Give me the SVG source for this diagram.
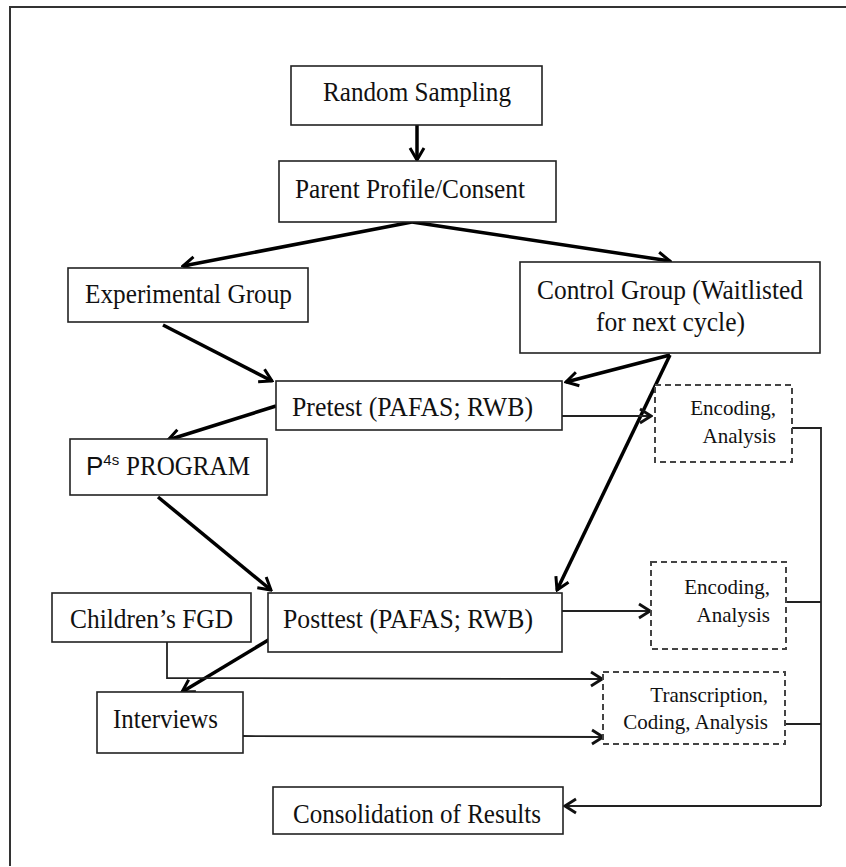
<svg xmlns="http://www.w3.org/2000/svg" width="846" height="867" viewBox="0 0 846 867">
<defs>
<style>
.box{fill:#fff;stroke:#222;stroke-width:1.6}
.dbox{fill:#fff;stroke:#444;stroke-width:2;stroke-dasharray:6 4}
.t{font-family:"Liberation Serif","Times New Roman",serif;font-size:27px;fill:#111}
.s{font-family:"Liberation Serif","Times New Roman",serif;font-size:21px;fill:#111;text-anchor:end}
.thick{fill:none;stroke:#000;stroke-width:3.5}
.thin{fill:none;stroke:#222;stroke-width:1.8}
</style>
<marker id="ah" viewBox="-15 -10 17 20" refX="0" refY="0" markerWidth="17" markerHeight="20" markerUnits="userSpaceOnUse" orient="auto"><path d="M-12,-7 L0,0 L-12,7" fill="none" stroke="#000" stroke-width="3"/></marker>
<marker id="ahs" viewBox="-15 -10 17 20" refX="0" refY="0" markerWidth="17" markerHeight="20" markerUnits="userSpaceOnUse" orient="auto"><path d="M-11,-7 L0,0 L-11,7" fill="none" stroke="#111" stroke-width="2.8"/></marker>
</defs>
<rect width="846" height="867" fill="#fff"/>
<path d="M10,866 L10,7 L846,7" fill="none" stroke="#333" stroke-width="2"/>

<g id="connectors">
<line class="thick" x1="417" y1="125" x2="417" y2="160" marker-end="url(#ah)"/>
<line class="thick" x1="412" y1="222" x2="183" y2="266" marker-end="url(#ah)"/>
<line class="thick" x1="412" y1="222" x2="670" y2="261" marker-end="url(#ah)"/>
<line class="thick" x1="163" y1="325" x2="272" y2="381" marker-end="url(#ah)"/>
<line class="thick" x1="670" y1="355" x2="566" y2="382" marker-end="url(#ah)"/>
<line class="thick" x1="670" y1="355" x2="557" y2="590" marker-end="url(#ah)"/>
<line class="thick" x1="276" y1="406" x2="168" y2="440" marker-end="url(#ah)"/>
<line class="thick" x1="158" y1="497" x2="271" y2="590" marker-end="url(#ah)"/>
<line class="thick" x1="270" y1="639" x2="182" y2="692" marker-end="url(#ah)"/>
<line class="thin" x1="562" y1="416" x2="651" y2="416" marker-end="url(#ahs)"/>
<line class="thin" x1="562" y1="611" x2="650" y2="611" marker-end="url(#ahs)"/>
<polyline class="thin" points="167,642 167,678 602,679" marker-end="url(#ahs)"/>
<line class="thin" x1="243" y1="736" x2="603" y2="737" marker-end="url(#ahs)"/>
<polyline class="thin" points="792,428 821,428 821,806"/>
<line class="thin" x1="786" y1="602" x2="821" y2="602"/>
<line class="thin" x1="785" y1="724" x2="821" y2="724"/>
<line class="thin" x1="821" y1="806" x2="565" y2="806" marker-end="url(#ahs)"/>
</g>

<g id="random-sampling">
<rect class="box" x="291" y="66" width="251" height="59"/>
<text class="t" x="323" y="101" textLength="188" lengthAdjust="spacingAndGlyphs">Random Sampling</text>
</g>
<g id="parent-profile">
<rect class="box" x="279" y="161" width="277" height="61"/>
<text class="t" x="295" y="198" textLength="230" lengthAdjust="spacingAndGlyphs">Parent Profile/Consent</text>
</g>
<g id="experimental-group">
<rect class="box" x="68" y="268" width="240" height="54"/>
<text class="t" x="85" y="303" textLength="207" lengthAdjust="spacingAndGlyphs">Experimental Group</text>
</g>
<g id="control-group">
<rect class="box" x="520" y="262" width="300" height="91"/>
<text class="t" x="537" y="299" textLength="266" lengthAdjust="spacingAndGlyphs">Control Group (Waitlisted</text>
<text class="t" x="596" y="331" textLength="149" lengthAdjust="spacingAndGlyphs">for next cycle)</text>
</g>
<g id="pretest">
<rect class="box" x="276" y="381" width="286" height="49"/>
<text class="t" x="292" y="416" textLength="241" lengthAdjust="spacingAndGlyphs">Pretest (PAFAS; RWB)</text>
</g>
<g id="encoding-1">
<rect class="dbox" x="655" y="385" width="137" height="77"/>
<text class="s" x="776" y="415">Encoding,</text>
<text class="s" x="776" y="443">Analysis</text>
</g>
<g id="p4s-program">
<rect class="box" x="70" y="439" width="197" height="56"/>
<text x="86" y="475" font-family="Liberation Sans, Arial, sans-serif" font-size="26" fill="#111">P<tspan font-size="15" dy="-10">4s</tspan></text>
<text class="t" x="126" y="475" textLength="124" lengthAdjust="spacingAndGlyphs">PROGRAM</text>
</g>
<g id="childrens-fgd">
<rect class="box" x="52" y="593" width="199" height="49"/>
<text class="t" x="70" y="628" textLength="163" lengthAdjust="spacingAndGlyphs">Children’s FGD</text>
</g>
<g id="posttest">
<rect class="box" x="268" y="593" width="294" height="59"/>
<text class="t" x="283" y="628" textLength="250" lengthAdjust="spacingAndGlyphs">Posttest (PAFAS; RWB)</text>
</g>
<g id="encoding-2">
<rect class="dbox" x="651" y="562" width="135" height="87"/>
<text class="s" x="770" y="594">Encoding,</text>
<text class="s" x="770" y="622">Analysis</text>
</g>
<g id="interviews">
<rect class="box" x="97" y="692" width="146" height="61"/>
<text class="t" x="113" y="728" textLength="105" lengthAdjust="spacingAndGlyphs">Interviews</text>
</g>
<g id="transcription">
<rect class="dbox" x="603" y="672" width="182" height="72"/>
<text class="s" x="768" y="702">Transcription,</text>
<text class="s" x="768" y="729">Coding, Analysis</text>
</g>
<g id="consolidation">
<rect class="box" x="273" y="787" width="290" height="47"/>
<text class="t" x="293" y="823" textLength="248" lengthAdjust="spacingAndGlyphs">Consolidation of Results</text>
</g>
</svg>
